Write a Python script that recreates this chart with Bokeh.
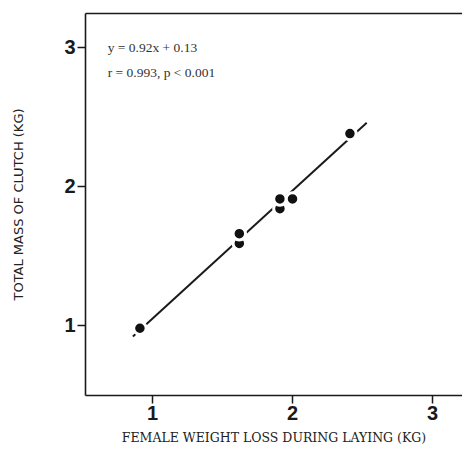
from bokeh.plotting import figure
from bokeh.models import LinearAxis, FixedTicker, Range1d, ColumnDataSource
from bokeh.core.properties import value
from bokeh.embed import file_html
from bokeh.resources import INLINE

# data
weight_loss = [0.91, 1.62, 1.62, 1.91, 1.91, 2.00, 2.41]
clutch_mass = [0.98, 1.59, 1.66, 1.84, 1.91, 1.91, 2.38]
slope = 0.92
intercept = 0.13
fit_x = [0.86, 2.53]
fit_y = [slope * x + intercept for x in fit_x]
x_ticks = [1, 2, 3]
y_ticks = [1, 2, 3]
notes = ["y = 0.92x + 0.13", "r = 0.993, p < 0.001"]
notes_x = [0.68, 0.68]
notes_y = [3.0, 2.82]

p = figure(width=462, height=461, output_backend="svg", toolbar_location=None,
           x_range=Range1d(0.5214, 3.214), y_range=Range1d(0.4964, 3.244),
           x_axis_location=None, y_axis_location=None,
           min_border_left=85, min_border_right=0, min_border_top=13,
           min_border_bottom=66)
p.outline_line_color = None
p.grid.visible = False
p.background_fill_color = "white"
p.border_fill_color = "white"

xa = LinearAxis(ticker=FixedTicker(ticks=x_ticks),
                axis_label="FEMALE WEIGHT LOSS DURING LAYING (KG)")
ya = LinearAxis(ticker=FixedTicker(ticks=y_ticks),
                axis_label="TOTAL MASS OF CLUTCH (KG)")
for ax in (xa, ya):
    ax.axis_line_width = 1.6
    ax.axis_line_color = "#1a1a1a"
    ax.major_tick_line_color = "#1a1a1a"
    ax.major_tick_line_width = 1.5
    ax.major_tick_in = 0
    ax.major_tick_out = 8
    ax.minor_tick_line_color = None
    ax.major_label_text_font = "Liberation Sans"
    ax.major_label_text_font_style = "bold"
    ax.major_label_text_font_size = "20px"
    ax.major_label_text_color = "#1a1a1a"
    ax.axis_label_text_font_style = "normal"
    ax.axis_label_text_color = "#222222"
    ax.major_label_standoff = 2

xa.axis_label_text_font = "DejaVu Serif"
xa.axis_label_text_font_size = "12.5px"
xa.axis_label_standoff = 7
ya.axis_label_text_font = "DejaVu Sans"
ya.axis_label_text_font_size = "13px"
ya.axis_label_standoff = 35

top = LinearAxis(ticker=FixedTicker(ticks=[]))
top.axis_line_width = 1.6
top.axis_line_color = "#1a1a1a"
top.major_tick_out = 0
top.major_tick_in = 0
top.major_label_standoff = 0
top.major_label_text_font_size = "0px"
top.minor_tick_line_color = None

p.add_layout(xa, "below")
p.add_layout(ya, "left")
p.add_layout(top, "above")

p.line(fit_x, fit_y, line_color="#1a1a1a", line_width=2)
p.scatter(weight_loss, clutch_mass, size=12.5, fill_color="#111111",
          line_color="white", line_width=3)

src = ColumnDataSource(dict(x=notes_x, y=notes_y, t=notes))
p.text(x="x", y="y", text="t", source=src, text_font=value("Liberation Serif"),
       text_font_size="13.5px", text_baseline="middle", text_align="left",
       text_color="#333333")

open("out.html", "w").write(file_html(p, INLINE))
